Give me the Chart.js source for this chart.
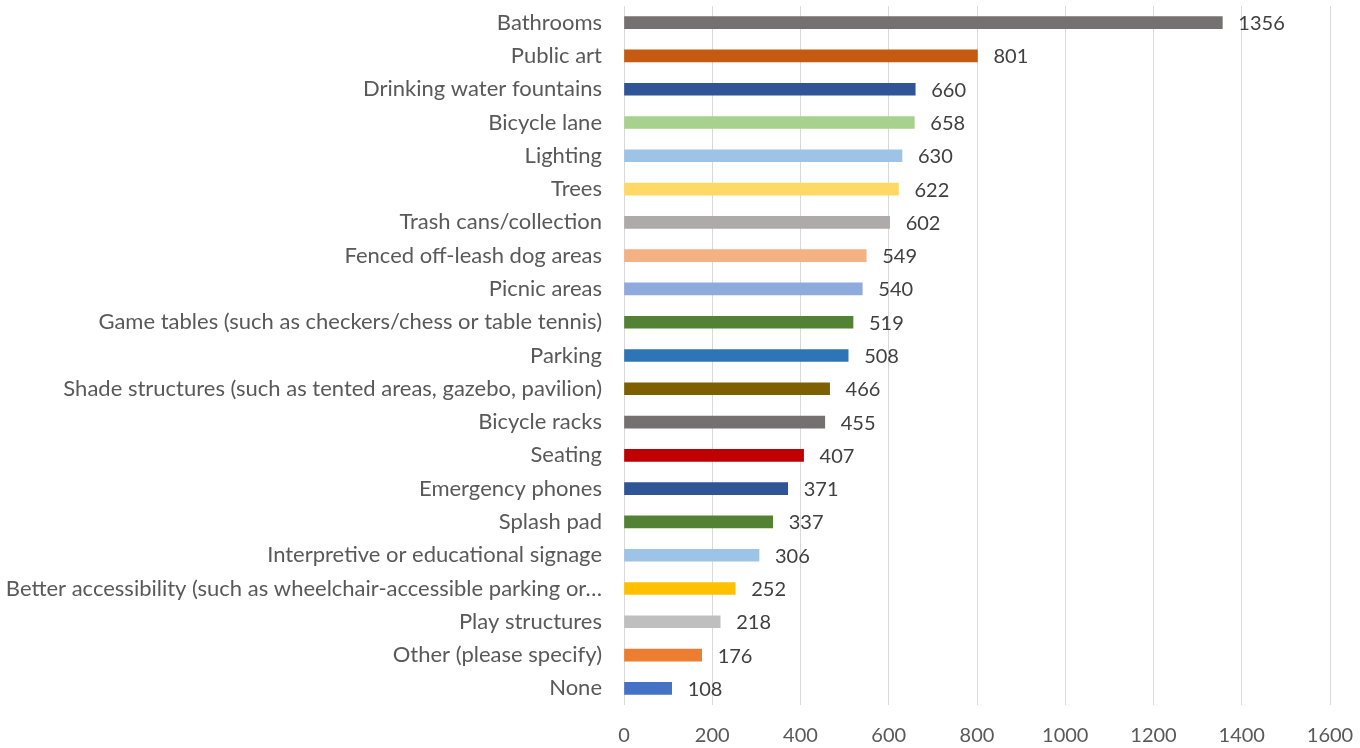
<!DOCTYPE html>
<html>
<head>
<meta charset="utf-8">
<script src="https://cdn.jsdelivr.net/npm/chart.js@4/dist/chart.umd.min.js"></script>
<style>
  html, body { margin: 0; padding: 0; background: #fff; }
  #wrap { width: 1360px; height: 748px; }
</style>
</head>
<body>
<div id="wrap"><canvas id="myChart" width="1360" height="748"></canvas></div>
<script>
const categories = [
  'Bathrooms', 'Public art', 'Drinking water fountains', 'Bicycle lane', 'Lighting',
  'Trees', 'Trash cans/collection', 'Fenced off-leash dog areas', 'Picnic areas',
  'Game tables (such as checkers/chess or table tennis)', 'Parking',
  'Shade structures (such as tented areas, gazebo, pavilion)', 'Bicycle racks',
  'Seating', 'Emergency phones', 'Splash pad', 'Interpretive or educational signage',
  'Better accessibility (such as wheelchair-accessible parking or\u2026',
  'Play structures', 'Other (please specify)', 'None'
];
const counts = [1356, 801, 660, 658, 630, 622, 602, 549, 540, 519, 508, 466, 455, 407, 371, 337, 306, 252, 218, 176, 108];
const barColors = [
  '#767171', '#C55A11', '#2F5597', '#A9D18E', '#9DC3E6', '#FFD966', '#AEAAAA',
  '#F4B183', '#8FAADC', '#548235', '#2E75B6', '#7F6000', '#767171', '#C00000',
  '#2F5597', '#548235', '#9DC3E6', '#FFC000', '#BFBFBF', '#ED7D31', '#4472C4'
];
const xTicks = [0, 200, 400, 600, 800, 1000, 1200, 1400, 1600];

const FONT = 'Lato, "Open Sans", sans-serif';

// value labels at the end of each bar
const valueLabels = {
  id: 'valueLabels',
  afterDatasetsDraw(chart) {
    const ctx = chart.ctx;
    const meta = chart.getDatasetMeta(0);
    ctx.save();
    ctx.font = '20px ' + FONT;
    ctx.fillStyle = '#404040';
    ctx.textBaseline = 'middle';
    ctx.textAlign = 'left';
    meta.data.forEach((bar, i) => {
      ctx.fillText(String(counts[i]), bar.x + 16, bar.y + 1);
    });
    ctx.restore();
  }
};

const ctx = document.getElementById('myChart').getContext('2d');
const chart = new Chart(ctx, {
  type: 'bar',
  data: {
    labels: categories,
    datasets: [{
      data: counts,
      backgroundColor: barColors,
      borderWidth: 0,
      barThickness: 12
    }]
  },
  options: {
    indexAxis: 'y',
    responsive: false,
    animation: false,
    layout: { padding: { top: 6, right: 30, left: 0, bottom: 0 } },
    plugins: {
      legend: { display: false },
      tooltip: { enabled: false }
    },
    scales: {
      x: {
        min: 0,
        max: 1600,
        afterBuildTicks: axis => { axis.ticks = xTicks.map(v => ({ value: v })); },
        grid: { color: '#D9D9D9', lineWidth: 1, drawTicks: false },
        border: { display: false },
        ticks: {
          color: '#595959',
          font: { family: FONT, size: 20 },
          padding: 19,
          callback: v => String(v)
        },
        afterFit: axis => {
          axis.height = 43;
          axis.paddingLeft = 0;
          axis.paddingRight = 0;
        }
      },
      y: {
        grid: { display: false, drawTicks: false },
        border: { display: false },
        ticks: { color: '#595959', font: { family: FONT, size: 22 }, padding: 22, autoSkip: false },
        afterFit: axis => {
          axis.width = 624;
          axis.paddingTop = 0;
          axis.paddingBottom = 0;
        }
      }
    }
  },
  plugins: [valueLabels]
});
</script>
</body>
</html>
